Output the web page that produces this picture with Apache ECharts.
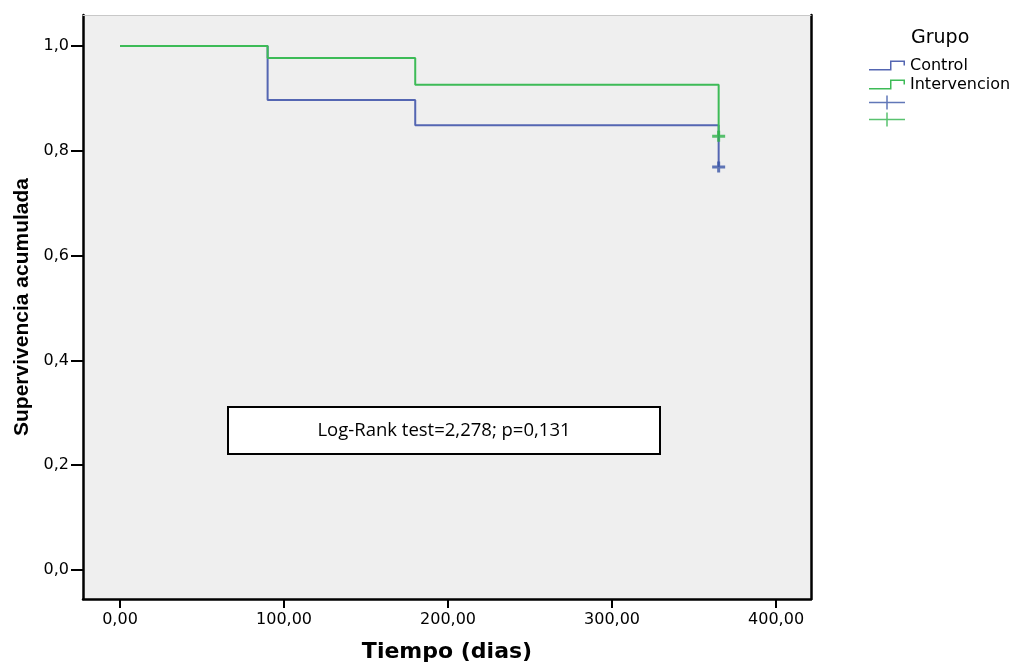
<!DOCTYPE html>
<html>
<head>
<meta charset="utf-8">
<script src="https://cdn.jsdelivr.net/npm/echarts/dist/echarts.min.js"></script>
<style>
html,body{margin:0;padding:0;background:#fff;}
#chart{width:1016px;height:662px;}
</style>
</head>
<body>
<div id="chart"></div>
<script>
// Data
const controlTimes = [0, 90, 180, 365];
const controlSurv  = [1.0, 0.897, 0.849, 0.769];
const intervTimes  = [0, 90, 180, 365];
const intervSurv   = [1.0, 0.977, 0.926, 0.828];
const controlCensor = [[365, 0.769]];
const intervCensor  = [[365, 0.828]];
const xTicks = [0, 100, 200, 300, 400];
const yTicks = [0, 0.2, 0.4, 0.6, 0.8, 1.0];
const groupNames = ['Control', 'Intervencion'];
const censorNames = ['Control censurado', 'Intervencion censurado'];
const annotation = 'Log-Rank test=2,278; p=0,131';

const BLUE = '#5466b2', GREEN = '#3dbb57';
const BLUE_M = '#3a55a6', GREEN_M = '#2fb34b';
const stepIcon = 'path://M0,8.5 L21,8.5 L21,0 L36,0 L36,5 L34.5,5 L34.5,1.5 L22.5,1.5 L22.5,10 L0,10 Z';
const plusIcon = 'path://M0,6.25 L36,6.25 L36,7.75 L0,7.75 Z M17.25,0 L18.75,0 L18.75,14 L17.25,14 Z';
const plusMark = 'path://M0,4 L13,4 L13,7 L0,7 Z M5,0 L8,0 L8,11 L5,11 Z';

const zip = (a, b) => a.map((v, i) => [v, b[i]]);

const chart = echarts.init(document.getElementById('chart'), null, {renderer: 'canvas'});
const XMIN = -22.56, XMAX = 421.3, YMIN = -0.0553, YMAX = 1.0592;
const tickFont = {fontFamily: 'DejaVu Sans', fontSize: 16, color: '#000'};

chart.setOption({
  animation: false,
  backgroundColor: '#fff',
  title: {
    text: 'Grupo', left: 906, top: 24,
    textStyle: {fontFamily: 'DejaVu Sans', fontSize: 19, fontWeight: 'normal', color: '#000'}
  },
  legend: {
    orient: 'vertical', left: 869, top: 57.5, padding: 0,
    itemWidth: 36, itemHeight: 14, itemGap: 3,
    itemStyle: {borderWidth: 0},
    textStyle: {fontFamily: 'DejaVu Sans', fontSize: 16, color: '#000'},
    data: [
      {name: groupNames[0], icon: stepIcon},
      {name: groupNames[1], icon: stepIcon},
      {name: censorNames[0], icon: plusIcon},
      {name: censorNames[1], icon: plusIcon}
    ],
    formatter: n => censorNames.indexOf(n) >= 0 ? '' : n,
    selectedMode: false
  },
  grid: {left: 83, right: 205, top: 15, bottom: 63, containLabel: false, outerBoundsMode: 'none',
         show: true, backgroundColor: '#efefef', borderWidth: 0},
  xAxis: [{
    type: 'value', min: XMIN, max: XMAX,
    name: 'Tiempo (dias)', nameLocation: 'middle', nameGap: 42,
    nameTextStyle: {fontFamily: 'DejaVu Sans', fontSize: 22, fontWeight: 'bold', color: '#000'},
    axisLine: {show: true, onZero: false, lineStyle: {color: '#000', width: 2.5}},
    axisTick: {show: true, length: 9, customValues: xTicks, lineStyle: {color: '#000', width: 2}},
    axisLabel: {margin: 13, customValues: xTicks, formatter: v => v.toFixed(2).replace('.', ','), ...tickFont},
    splitLine: {show: false}
  }, {
    type: 'value', position: 'top', min: XMIN, max: XMAX,
    axisLine: {show: true, onZero: false, lineStyle: {color: '#c8c8c8', width: 1}},
    axisTick: {show: false}, axisLabel: {show: false}, splitLine: {show: false}
  }],
  yAxis: [{
    type: 'value', min: YMIN, max: YMAX,
    name: 'Supervivencia acumulada', nameLocation: 'middle', nameGap: 50,
    nameTextStyle: {fontFamily: 'Liberation Sans', fontSize: 21, fontWeight: 'bold', color: '#000'},
    axisLine: {show: true, onZero: false, lineStyle: {color: '#000', width: 2.5}},
    axisTick: {show: true, length: 12, customValues: yTicks, lineStyle: {color: '#000', width: 2}},
    axisLabel: {margin: 14, customValues: yTicks, formatter: v => v.toFixed(1).replace('.', ','), ...tickFont},
    splitLine: {show: false}
  }, {
    type: 'value', position: 'right', min: YMIN, max: YMAX,
    axisLine: {show: true, onZero: false, lineStyle: {color: '#000', width: 2.5}},
    axisTick: {show: false}, axisLabel: {show: false}, splitLine: {show: false}
  }],
  series: [
    {name: groupNames[0], type: 'line', step: 'end', data: zip(controlTimes, controlSurv),
     symbol: 'none', color: BLUE, lineStyle: {color: BLUE, width: 2}, z: 2},
    {name: groupNames[1], type: 'line', step: 'end', data: zip(intervTimes, intervSurv),
     symbol: 'none', color: GREEN, lineStyle: {color: GREEN, width: 2}, z: 3},
    {name: censorNames[0], type: 'scatter', data: controlCensor, symbol: plusMark, symbolSize: [13, 11],
     color: BLUE_M, itemStyle: {color: BLUE_M}, z: 4},
    {name: censorNames[1], type: 'scatter', data: intervCensor, symbol: plusMark, symbolSize: [13, 11],
     color: GREEN_M, itemStyle: {color: GREEN_M}, z: 5}
  ],
  graphic: [{
    type: 'group', left: 227, top: 406,
    children: [
      {type: 'rect', shape: {x: 0, y: 0, width: 432, height: 47},
       style: {fill: '#fff', stroke: '#000', lineWidth: 2}},
      {type: 'text', x: 216, y: 24,
       style: {text: annotation, fontFamily: 'Open Sans', fontSize: 18.5, fill: '#000', align: 'center', verticalAlign: 'middle'}}
    ]
  }]
});
</script>
</body>
</html>
